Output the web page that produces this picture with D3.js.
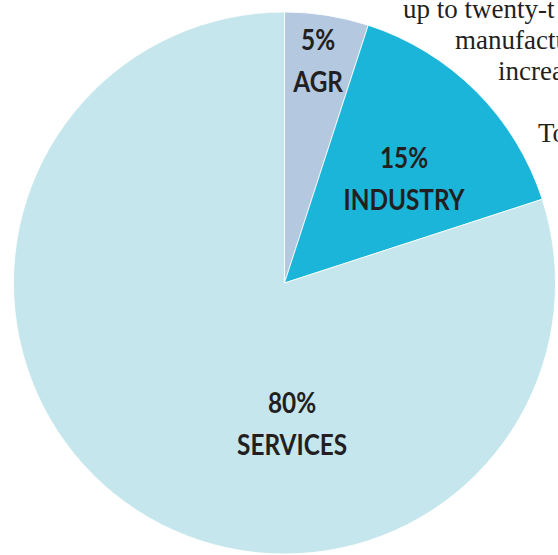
<!DOCTYPE html>
<html>
<head>
<meta charset="utf-8">
<script src="https://cdn.jsdelivr.net/npm/d3@7"></script>
<style>
  html, body { margin: 0; padding: 0; background: #fff; overflow: hidden; }
  svg { display: block; }
</style>
</head>
<body>
<svg id="chart" width="558" height="555"></svg>
<script>
// ---- data ----
const categories = ["AGR", "INDUSTRY", "SERVICES"];
const shares = [5, 15, 80];
const colors = ["#b4c8e0", "#1ab5d9", "#c4e6ec"];
const bookLines = ["up to twenty-t", "manufactu", "increas", "", "To"];

// ---- layout ----
const W = 558, H = 555;
const cx = 284.5, cy = 283, R = 271;
// percentage-line anchor relative to pie centre (fractions of R)
const labelOffsets = [[0.124, -0.860], [0.441, -0.424], [0.028, 0.480]];
const textX = [403, 455, 498, 0, 538];
const lineY0 = 18, lineStep = 31;

const svg = d3.select("#chart");

// background book text (partially covered by pie)
svg.append("g").selectAll("text")
  .data(bookLines)
  .join("text")
  .attr("x", (d, i) => textX[i])
  .attr("y", (d, i) => lineY0 + i * lineStep)
  .attr("font-family", "'Liberation Serif', 'DejaVu Serif', serif")
  .attr("font-size", 27)
  .attr("fill", "#231f20")
  .text(d => d);

const pie = d3.pie().sort(null).value(d => d)(shares);
const arc = d3.arc().innerRadius(0).outerRadius(R);

const g = svg.append("g").attr("transform", `translate(${cx},${cy})`);
g.selectAll("path")
  .data(pie)
  .join("path")
  .attr("d", arc)
  .attr("fill", (d, i) => colors[i])
  .attr("stroke", "#ffffff")
  .attr("stroke-width", 0.8)
  .attr("stroke-linejoin", "round");

const labels = g.selectAll("g.lbl")
  .data(pie)
  .join("g")
  .attr("class", "lbl")
  .attr("transform", (d, i) => `translate(${labelOffsets[i][0] * R},${labelOffsets[i][1] * R}) scale(0.87,1)`);

labels.append("text")
  .attr("y", 0)
  .attr("text-anchor", "middle")
  .attr("font-family", "Lato, 'Open Sans', sans-serif")
  .attr("font-weight", 700)
  .attr("font-size", 28)
  .attr("fill", "#231f20")
  .text(d => d.data + "%");

labels.append("text")
  .attr("y", 42)
  .attr("text-anchor", "middle")
  .attr("font-family", "Lato, 'Open Sans', sans-serif")
  .attr("font-weight", 700)
  .attr("font-size", 28)
  .attr("fill", "#231f20")
  .text((d, i) => categories[i]);
</script>
</body>
</html>
